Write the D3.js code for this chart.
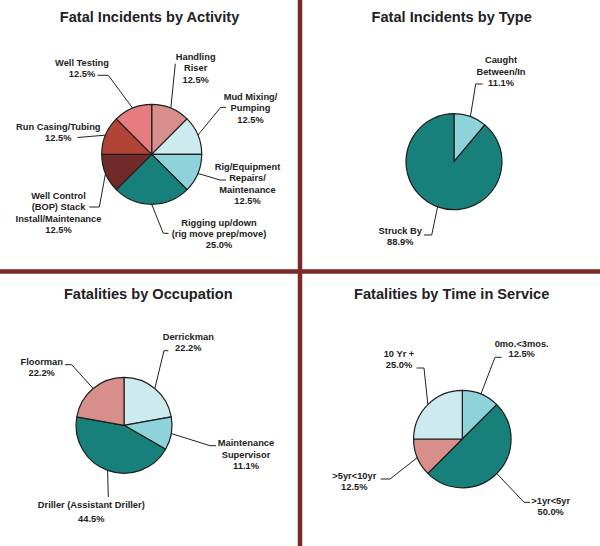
<!DOCTYPE html>
<html>
<head>
<meta charset="utf-8">
<script src="https://cdn.jsdelivr.net/npm/d3@7"></script>
<style>
  body { margin: 0; background: #fff; }
  svg { display: block; }
  text { font-family: "Liberation Sans", Arial, Helvetica, sans-serif; font-weight: bold; fill: #222; }
</style>
</head>
<body>
<svg id="chart" width="600" height="546"></svg>
<script>
// ---- data ----
var activityCats = ["Handling|Riser", "Mud Mixing/|Pumping", "Rig/Equipment|Repairs/|Maintenance",
                    "Rigging up/down|(rig move prep/move)", "Well Control|(BOP) Stack|Install/Maintenance",
                    "Run Casing/Tubing", "Well Testing"];
var activityVals = [12.5, 12.5, 12.5, 25.0, 12.5, 12.5, 12.5];

var typeCats = ["Caught|Between/In", "Struck By"];
var typeVals = [11.1, 88.9];

var occupationCats = ["Derrickman", "Maintenance|Supervisor", "Driller (Assistant Driller)", "Floorman"];
var occupationVals = [22.2, 11.1, 44.5, 22.2];

var serviceCats = ["0mo.<3mos.", ">1yr<5yr", ">5yr<10yr", "10 Yr +"];
var serviceVals = [12.5, 50.0, 12.5, 25.0];

// ---- colours ----
var teal = "#17807a", lightCyan = "#cdebef", midCyan = "#8dd3d9",
    pink = "#d88f8c", salmon = "#e67c80", brick = "#b24436", maroon = "#722a29";

// ---- layout: pie centre/radius, label anchors and leader elbows ----
var charts = [
  { title: "Fatal Incidents by Activity", tx: 149.5, ty: 21.8,
    cx: 151.7, cy: 154.3, r: 50, cats: activityCats, vals: activityVals,
    colors: [pink, lightCyan, midCyan, teal, maroon, brick, salmon],
    labels: [
      { x: 195.7, y: 56.7, pts: [[175.3, 63.7]] },
      { x: 250.5, y: 96.7, pts: [[220.7, 107.3], [226, 107.3]] },
      { x: 247.5, y: 166.7, pts: [[220, 180], [226, 180]] },
      { x: 219, y: 222.3, pts: [[163.3, 233.3], [168.5, 233.3]] },
      { x: 58.5, y: 195.7, pts: [[99.3, 207], [89.3, 207]] },
      { x: 58.3, y: 126.7, pts: [[77.3, 137.5]] },
      { x: 82, y: 62.7, pts: [[108.3, 75.3], [97.5, 75.3]] }
    ] },
  { title: "Fatal Incidents by Type", tx: 451.7, ty: 21.8,
    cx: 454, cy: 161.7, r: 48, cats: typeCats, vals: typeVals,
    colors: [midCyan, teal],
    labels: [
      { x: 501, y: 60, pts: [[475.7, 84], [482.7, 84]] },
      { x: 400.3, y: 230.7, pts: [[431.7, 235], [424, 235]] }
    ] },
  { title: "Fatalities by Occupation", tx: 148.3, ty: 298.8,
    cx: 124, cy: 425.3, r: 48, cats: occupationCats, vals: occupationVals,
    colors: [lightCyan, midCyan, teal, pink],
    labels: [
      { x: 188.3, y: 336.3, pts: [[164, 350.7], [168.3, 350.7]] },
      { x: 246, y: 443, pts: [[210, 445.7], [216, 445.7]] },
      { x: 91.3, y: 504.7, lh: 14, pts: [[108.3, 497]] },
      { x: 41.7, y: 361.3, pts: [[71.7, 364.7], [65, 364.7]] }
    ] },
  { title: "Fatalities by Time in Service", tx: 451.7, ty: 298.8,
    cx: 462.3, cy: 439, r: 48.7, cats: serviceCats, vals: serviceVals,
    colors: [midCyan, teal, pink, lightCyan],
    labels: [
      { x: 521.7, y: 343.7, lh: 10.3, pts: [[495, 357.3], [501.7, 357.3]] },
      { x: 550.7, y: 500.7, pts: [[524, 502.3], [530, 502.3]] },
      { x: 354.3, y: 476, lh: 10.3, pts: [[390, 479], [380.7, 479]] },
      { x: 399, y: 353.7, pts: [[424, 368], [416.7, 368]] }
    ] }
];

var svg = d3.select("#chart");
var fmt = d3.format(".1f");
var pie = d3.pie().sort(null).value(function(d) { return d; });
var line = d3.line();

// dividers
var divColor = "#7b2a28";
svg.append("line").attr("x1", 300).attr("x2", 300).attr("y1", 0).attr("y2", 546)
  .attr("stroke", divColor).attr("stroke-width", 4.5);
svg.append("line").attr("x1", 0).attr("x2", 600).attr("y1", 271.5).attr("y2", 271.5)
  .attr("stroke", divColor).attr("stroke-width", 4.5);

charts.forEach(function(c) {
  svg.append("text")
    .attr("x", c.tx).attr("y", c.ty)
    .attr("text-anchor", "middle")
    .style("font-size", "14.6px")
    .text(c.title);

  var arcs = pie(c.vals);
  var arc = d3.arc().innerRadius(0).outerRadius(c.r);
  var edge = d3.arc().innerRadius(c.r).outerRadius(c.r);

  var g = svg.append("g").attr("transform", "translate(" + c.cx + "," + c.cy + ")");
  g.selectAll("path.slice")
    .data(arcs)
    .enter().append("path")
    .attr("class", "slice")
    .attr("d", arc)
    .attr("fill", function(d, i) { return c.colors[i]; })
    .attr("stroke", "#1e1e1e")
    .attr("stroke-width", 1.2)
    .attr("stroke-linejoin", "round");

  // leader lines
  arcs.forEach(function(d, i) {
    var lab = c.labels[i];
    var p0 = edge.centroid(d);
    var pts = [[c.cx + p0[0], c.cy + p0[1]]].concat(lab.pts);
    svg.append("path")
      .attr("d", line(pts))
      .attr("fill", "none")
      .attr("stroke", "#222")
      .attr("stroke-width", 1);

    var lines = c.cats[i].split("|").concat([fmt(c.vals[i]) + "%"]);
    var lh = lab.lh || 11.3;
    var t = svg.append("text")
      .attr("text-anchor", "middle")
      .style("font-size", "9.3px");
    lines.forEach(function(s, k) {
      t.append("tspan")
        .attr("x", lab.x)
        .attr("y", lab.y + k * lh + 3.3)
        .text(s);
    });
  });
});
</script>
</body>
</html>
